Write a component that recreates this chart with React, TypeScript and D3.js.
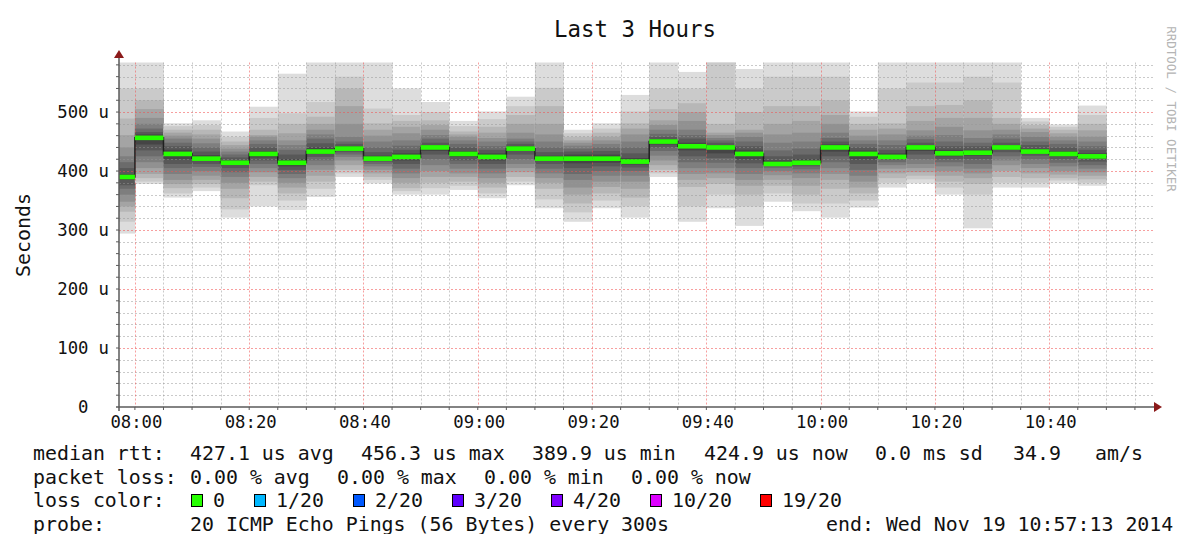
import React from "react";
import * as d3 from "d3";

// end of each 5 minute step (value covers the 5 minutes before it)
const stepEnds = [
  "08:00", "08:05", "08:10", "08:15", "08:20", "08:25", "08:30", "08:35", "08:40",
  "08:45", "08:50", "08:55", "09:00", "09:05", "09:10", "09:15", "09:20", "09:25",
  "09:30", "09:35", "09:40", "09:45", "09:50", "09:55", "10:00", "10:05", "10:10",
  "10:15", "10:20", "10:25", "10:30", "10:35", "10:40", "10:45", "10:50",
];

// median rtt per step, in microseconds
const medianRtt = [
  389.9, 456.3, 429, 421, 414, 429, 414, 433, 438, 421, 424, 440, 429, 424, 438, 421,
  421, 421, 416, 450, 442, 440, 429, 412, 414, 440, 429, 424, 440, 430, 431, 440, 433,
  429, 424.9,
];

// the 20 sorted ping times of each step, in microseconds
const pingRtt = [
  [294, 314, 331, 340, 348, 360, 370, 376, 385, 389, 391, 395, 405, 415, 425, 440, 461, 489, 540, 590],
  [378, 382, 388, 395, 405, 415, 425, 435, 445, 455, 458, 462, 466, 472, 480, 490, 505, 520, 540, 600],
  [355, 362, 371, 378, 385, 395, 405, 412, 420, 427, 431, 436, 442, 448, 455, 460, 465, 470, 476, 481],
  [366, 372, 378, 385, 392, 400, 407, 412, 417, 420, 422, 427, 433, 440, 447, 455, 462, 470, 478, 486],
  [321, 335, 354, 370, 380, 390, 398, 405, 410, 413, 415, 418, 423, 428, 433, 438, 444, 450, 458, 467],
  [340, 376, 382, 390, 398, 405, 412, 418, 423, 428, 430, 434, 440, 446, 452, 458, 461, 470, 490, 509],
  [334, 350, 362, 372, 380, 388, 395, 402, 408, 413, 415, 420, 428, 436, 444, 452, 464, 480, 498, 565],
  [356, 370, 382, 392, 402, 410, 418, 424, 429, 432, 434, 440, 447, 455, 462, 470, 480, 492, 517, 600],
  [390, 396, 402, 410, 418, 424, 428, 432, 435, 437, 439, 442, 446, 450, 458, 480, 510, 540, 560, 600],
  [379, 385, 390, 396, 402, 408, 412, 416, 419, 421, 422, 426, 432, 440, 450, 460, 470, 481, 506, 600],
  [360, 366, 371, 380, 388, 396, 404, 412, 418, 423, 425, 430, 436, 443, 452, 464, 475, 485, 495, 540],
  [360, 371, 380, 390, 400, 410, 420, 428, 434, 439, 441, 444, 448, 455, 461, 470, 478, 486, 500, 517],
  [368, 375, 382, 390, 396, 404, 412, 418, 424, 428, 430, 434, 440, 446, 452, 458, 462, 467, 476, 485],
  [354, 362, 372, 380, 388, 396, 404, 412, 418, 423, 425, 430, 436, 442, 450, 456, 465, 475, 488, 501],
  [376, 382, 390, 398, 405, 412, 420, 428, 434, 437, 439, 442, 446, 450, 455, 465, 480, 495, 510, 526],
  [337, 352, 370, 380, 388, 396, 404, 412, 417, 420, 422, 426, 432, 440, 450, 462, 480, 510, 541, 600],
  [314, 330, 345, 360, 372, 385, 395, 405, 413, 419, 423, 428, 433, 438, 443, 448, 452, 458, 464, 470],
  [337, 350, 362, 373, 382, 392, 400, 408, 414, 419, 423, 428, 434, 440, 446, 452, 458, 465, 472, 481],
  [321, 340, 355, 370, 382, 392, 400, 406, 411, 415, 417, 422, 430, 440, 450, 462, 472, 481, 501, 529],
  [390, 396, 402, 410, 418, 426, 434, 440, 445, 449, 451, 454, 458, 463, 470, 478, 486, 505, 540, 600],
  [314, 340, 373, 385, 395, 405, 415, 425, 435, 441, 443, 448, 455, 461, 470, 485, 500, 515, 540, 568],
  [337, 360, 378, 388, 396, 405, 414, 422, 430, 438, 441, 444, 448, 452, 456, 461, 465, 480, 590, 600],
  [307, 340, 360, 375, 385, 395, 405, 413, 420, 427, 431, 436, 442, 450, 458, 465, 470, 500, 540, 573],
  [348, 362, 375, 385, 393, 400, 405, 408, 410, 411, 413, 418, 425, 435, 448, 462, 480, 510, 560, 600],
  [332, 345, 360, 375, 388, 396, 403, 408, 411, 413, 415, 420, 428, 438, 450, 465, 485, 510, 560, 600],
  [321, 345, 370, 385, 395, 405, 415, 425, 433, 439, 441, 445, 450, 456, 465, 480, 495, 520, 560, 600],
  [338, 350, 362, 372, 382, 392, 402, 412, 420, 427, 431, 435, 440, 446, 452, 460, 470, 480, 492, 501],
  [372, 380, 388, 396, 404, 410, 415, 419, 422, 424, 426, 430, 436, 444, 452, 462, 472, 481, 540, 600],
  [379, 386, 392, 398, 405, 412, 420, 428, 434, 439, 441, 444, 448, 454, 460, 469, 485, 510, 550, 600],
  [360, 372, 382, 392, 400, 408, 415, 420, 425, 429, 431, 436, 442, 450, 461, 475, 490, 512, 550, 600],
  [303, 360, 378, 388, 396, 404, 412, 420, 426, 430, 432, 436, 442, 448, 456, 469, 490, 520, 560, 600],
  [372, 380, 390, 400, 410, 418, 425, 432, 436, 439, 441, 444, 448, 455, 462, 470, 480, 490, 550, 600],
  [372, 380, 388, 396, 405, 412, 420, 426, 430, 432, 434, 438, 444, 450, 458, 466, 472, 478, 484, 490],
  [379, 384, 388, 394, 400, 408, 414, 420, 425, 428, 430, 434, 440, 446, 452, 458, 464, 470, 475, 479],
  [375, 380, 386, 392, 398, 404, 410, 416, 421, 424, 426, 430, 436, 442, 450, 458, 469, 480, 495, 511],
];

const yTickValues = [0, 100, 200, 300, 400, 500];
const yTickLabels = ["0", "100", "200", "300", "400", "500"];
const xTickLabels = ["08:00", "08:20", "08:40", "09:00", "09:20", "09:40", "10:00", "10:20", "10:40"];

// outer pair of pings lightest, inner pair darkest
const smokeGrays = ["#dddddd", "#cacaca", "#b7b7b7", "#a4a4a4", "#919191", "#7e7e7e", "#6b6b6b", "#585858", "#454545", "#323232"];

const lossLabels = ["0", "1/20", "2/20", "3/20", "4/20", "10/20", "19/20"];
const lossColors = ["#26ff00", "#00b8ff", "#0059ff", "#5e00ff", "#7e00ff", "#dd00ff", "#ff0000"];

const rttStats = ["427.1 us avg", "456.3 us max", "389.9 us min", "424.9 us now", "0.0 ms sd"];
const lossStats = ["0.00 % avg", "0.00 % max", "0.00 % min", "0.00 % now"];

const W = 1195;
const H = 534;
const MONO = "'DejaVu Sans Mono', monospace";

const toDate = (s: string, sec = 0) => {
  const [h, m] = s.split(":").map(Number);
  return new Date(2014, 10, 19, h, m, sec);
};

const App: React.FC = () => {
  const plot = { left: 119, right: 1147.6, top: 62.5, bottom: 407 };
  const x = d3
    .scaleTime()
    .domain([toDate("07:57", 13), toDate("10:57", 13)])
    .range([plot.left, plot.right]);
  const y = d3.scaleLinear().domain([0, 584]).range([plot.bottom, plot.top]);

  const steps = stepEnds.map((s, i) => {
    const end = toDate(s);
    const start = d3.timeMinute.offset(end, -5);
    return {
      x0: Math.max(x(start), plot.left),
      x1: x(end),
      pings: pingRtt[i],
      median: medianRtt[i],
    };
  });

  // grid positions
  const vTicks = x.ticks(d3.timeMinute.every(5)!);
  const hTicks = d3.range(20, 584, 20);
  const gridRight = plot.right + 6;

  const medianLine = d3.line<[number, number]>()(
    steps.flatMap((s) => [
      [s.x0, y(s.median)],
      [s.x1, y(s.median)],
    ] as [number, number][])
  );

  const rowY = [460, 483.5, 507, 530.5];
  const rttX = [190, 361, 532, 704, 875];
  const lossX = [190, 337, 484, 631];
  // legend boxes, spread like rrdtool's justified legend
  const swatchX = [191, 254, 353, 452, 551, 650, 760];

  return (
    <svg
      width={W}
      height={H}
      style={{ position: "absolute", left: 0, top: 0, background: "#fff" }}
      fontFamily={MONO}
    >
      <defs>
        <clipPath id="plotClip">
          <rect x={plot.left} y={plot.top} width={plot.right - plot.left} height={plot.bottom - plot.top} />
        </clipPath>
      </defs>
      <rect width={W} height={H} fill="#fff" />

      {/* smoke */}
      <g clipPath="url(#plotClip)">
        {steps.map((s, i) =>
          smokeGrays.map((c, k) => (
            <rect
              key={`${i}-${k}`}
              x={s.x0}
              width={s.x1 - s.x0 + 0.3}
              y={y(s.pings[19 - k])}
              height={y(s.pings[k]) - y(s.pings[19 - k])}
              fill={c}
            />
          ))
        )}
      </g>

      {/* grid */}
      <g strokeWidth={1} fill="none">
        {hTicks.map((v) => (
          <line
            key={`h${v}`}
            x1={plot.left}
            x2={gridRight}
            y1={Math.round(y(v)) + 0.5}
            y2={Math.round(y(v)) + 0.5}
            stroke={v % 100 === 0 ? "rgba(240,80,80,0.55)" : "rgba(150,150,150,0.5)"}
            strokeDasharray="2,2"
          />
        ))}
        {vTicks.map((t) => (
          <line
            key={`v${+t}`}
            x1={Math.round(x(t)) + 0.5}
            x2={Math.round(x(t)) + 0.5}
            y1={plot.top}
            y2={plot.bottom}
            stroke={t.getMinutes() % 20 === 0 ? "rgba(240,80,80,0.55)" : "rgba(150,150,150,0.5)"}
            strokeDasharray="2,2"
          />
        ))}
      </g>

      {/* median */}
      <path d={medianLine ?? ""} fill="none" stroke="#202020" strokeWidth={1.5} />
      {steps.map((s, i) => (
        <rect key={`m${i}`} x={s.x0} width={s.x1 - s.x0} y={y(s.median) - 2.3} height={4.6} fill={lossColors[0]} />
      ))}

      {/* axes */}
      <g stroke="#5a5a5a" strokeWidth={1.5}>
        <line x1={plot.left} x2={plot.left} y1={plot.bottom + 4} y2={55} />
        <line x1={plot.left - 3} x2={1156} y1={plot.bottom} y2={plot.bottom} />
        {hTicks.map((v) => (
          <line key={`yt${v}`} x1={plot.left - 3} x2={plot.left} y1={y(v)} y2={y(v)} strokeWidth={1} />
        ))}
        {vTicks.map((t) => (
          <line key={`xt${+t}`} x1={x(t)} x2={x(t)} y1={plot.bottom} y2={plot.bottom + 3} strokeWidth={1} />
        ))}
      </g>
      <path d={`M${plot.left - 5},58 L${plot.left + 5},58 L${plot.left},50 Z`} fill="#8b1a1a" />
      <path d={`M1154,${plot.bottom - 5} L1154,${plot.bottom + 5} L1162,${plot.bottom} Z`} fill="#8b1a1a" />

      {/* y labels */}
      <g fontSize={17.3} fill="#111">
        {yTickValues.map((v, i) => (
          <g key={`yl${v}`}>
            <text x={88.5} y={y(v) + 6} textAnchor="end">
              {yTickLabels[i]}
            </text>
            {v > 0 && (
              <text x={98.5} y={y(v) + 6}>
                u
              </text>
            )}
          </g>
        ))}
      </g>

      {/* x labels */}
      <g fontSize={17.3} fill="#111" textAnchor="middle">
        {xTickLabels.map((s) => (
          <text key={s} x={x(toDate(s)) + 1.5} y={428}>
            {s}
          </text>
        ))}
      </g>

      {/* title and units */}
      <text x={635} y={37} fontSize={22.4} textAnchor="middle" fill="#111">
        Last 3 Hours
      </text>
      <text transform="translate(30,235) rotate(-90)" fontSize={19.9} textAnchor="middle" fill="#111">
        Seconds
      </text>
      <text transform="translate(1167,109) rotate(90)" fontSize={12.5} textAnchor="middle" fill="#b4b4b4">
        RRDTOOL / TOBI OETIKER
      </text>

      {/* legend */}
      <g fontSize={19.9} fill="#111" style={{ whiteSpace: "pre" }}>
        <text x={33} y={rowY[0]}>median rtt:</text>
        {rttStats.map((s, i) => (
          <text key={s} x={rttX[i]} y={rowY[0]}>
            {s}
          </text>
        ))}
        <text x={1013} y={rowY[0]}>34.9</text>
        <text x={1095} y={rowY[0]}>am/s</text>

        <text x={33} y={rowY[1]}>packet loss:</text>
        {lossStats.map((s, i) => (
          <text key={s} x={lossX[i]} y={rowY[1]}>
            {s}
          </text>
        ))}

        <text x={33} y={rowY[2]}>loss color:</text>
        {lossLabels.map((s, i) => (
          <g key={s}>
            <rect
              x={swatchX[i] + 0.5}
              y={rowY[2] - 12.5}
              width={11}
              height={12}
              fill={lossColors[i]}
              stroke="#000"
              strokeWidth={1}
            />
            <text x={swatchX[i] + 22} y={rowY[2]}>
              {s}
            </text>
          </g>
        ))}

        <text x={33} y={rowY[3]}>probe:</text>
        <text x={190} y={rowY[3]}>20 ICMP Echo Pings (56 Bytes) every 300s</text>
        <text x={826} y={rowY[3]}>end: Wed Nov 19 10:57:13 2014</text>
      </g>
    </svg>
  );
};

export default App;
